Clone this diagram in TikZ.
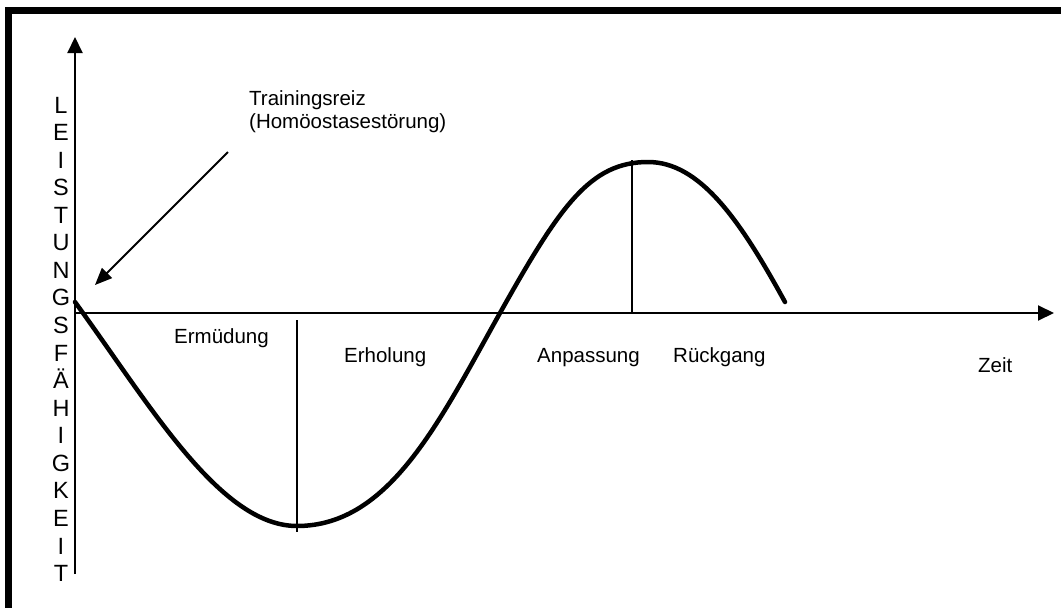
\documentclass[tikz,border=0pt]{standalone}
\usepackage{fontspec}
\setmainfont{Liberation Sans}
\usetikzlibrary{arrows.meta}

\begin{document}
\begin{tikzpicture}[
			x=1pt,
			y=-1pt,
			every node/.style={inner sep=0pt, font=\fontsize{20.5}{23.5}\selectfont},
			axis/.style={line width=2pt, -{Triangle[length=16pt,width=15pt]}},
			divider/.style={line width=2pt},
			curve/.style={line width=4.5pt, line cap=round, line join=round},
			letter/.style={anchor=base, font=\fontsize{23.5}{27}\selectfont},
			line cap=butt
			]
			\useasboundingbox (0,0) rectangle (1061,608);
			
			\draw[line width=6.5pt] (8.5,608) -- (8.5,10.5) -- (1061,10.5);
			
			\coordinate (ybottom) at (75,574);
			\coordinate (ytop) at (75,37);
			\coordinate (xstart) at (75,313);
			\coordinate (xend) at (1054,313);
			\draw[axis] (ybottom) -- (ytop);
			\draw[axis] (xstart) -- (xend);
			
			\foreach \ch [count=\i from 0] in {L,E,I,S,T,U,N,G,S,F,Ä,H,I,G,K,E,I,T}
				\node[letter] (lt\i) at (61,113+27.57*\i) {\ch};
			
			\node[anchor=north west, align=left] (reiz) at (249,90)
				{Trainingsreiz\\(Homöostasestörung)};
			\coordinate (reizfrom) at (228,152);
			\coordinate (reizto) at (95,285);
			\draw[line width=2pt, -{Triangle[length=17pt,width=14pt]}] (reizfrom) -- (reizto);
			
			\coordinate (mintop) at (297,320);
			\coordinate (minbot) at (297,532);
			\coordinate (maxtop) at (632,160);
			\coordinate (maxbot) at (632,313);
			\draw[divider] (mintop) -- (minbot);
			\draw[divider] (maxtop) -- (maxbot);
			
			\draw[curve] (75,302) .. controls (150,405) and (220,526) .. (297,526)
				.. controls (390,526) and (440,420) .. (500,313)
				.. controls (560,206) and (590,162) .. (648,162)
				.. controls (700,162) and (740,220) .. (785,302);
			
			\node[anchor=base east] (ermuedung) at (269,343) {Ermüdung};
			\node[anchor=base west] (erholung) at (344,362) {Erholung};
			\node[anchor=base east] (anpassung) at (640,362) {Anpassung};
			\node[anchor=base west] (rueckgang) at (673,362) {Rückgang};
			\node[anchor=base west] (zeit) at (978,372) {Zeit};
		\end{tikzpicture}
\end{document}
